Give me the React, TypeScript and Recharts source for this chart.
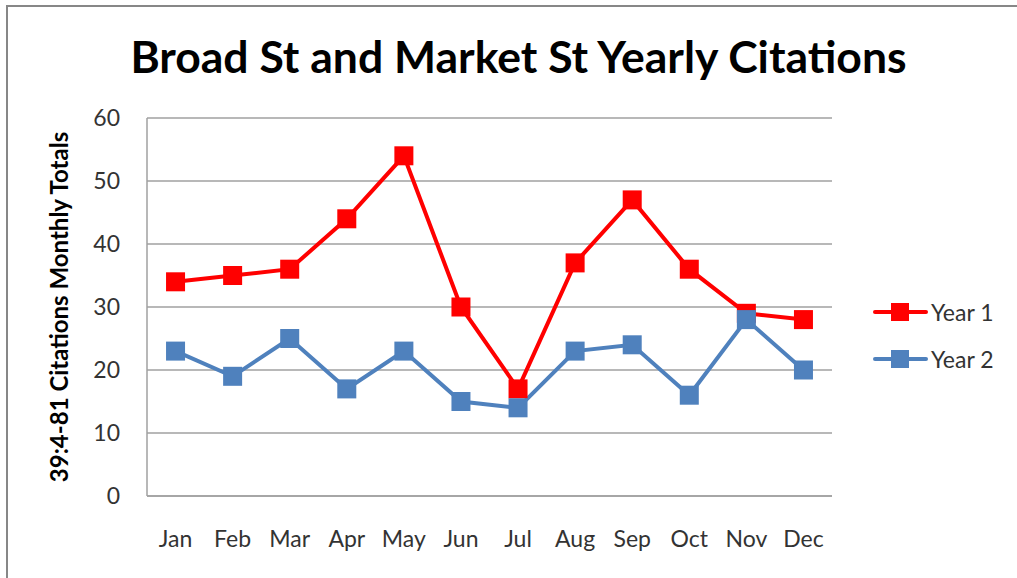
import React from 'react';
import { LineChart, Line, XAxis, YAxis, CartesianGrid } from 'recharts';

const months = ['Jan', 'Feb', 'Mar', 'Apr', 'May', 'Jun', 'Jul', 'Aug', 'Sep', 'Oct', 'Nov', 'Dec'];
const year1 = [34, 35, 36, 44, 54, 30, 17, 37, 47, 36, 29, 28];
const year2 = [23, 19, 25, 17, 23, 15, 14, 23, 24, 16, 28, 20];
const yTicks = [0, 10, 20, 30, 40, 50, 60];
const seriesNames = ['Year 1', 'Year 2'];
const seriesColors = ['#FF0000', '#4F81BD'];
const title = 'Broad St and Market St Yearly Citations';
const yLabel = '39:4-81 Citations Monthly Totals';

const data = months.map((m, i) => ({ month: m, y1: year1[i], y2: year2[i] }));

const FONT = 'Lato, "Open Sans", sans-serif';

const squareDot = (color: string) => (props: any) => {
  const { cx, cy, index } = props;
  if (cx == null || cy == null) return <g key={index} />;
  const s = 19;
  return <rect key={index} x={cx - s / 2} y={cy - s / 2} width={s} height={s} fill={color} />;
};

export default function App() {
  return (
    <div
      style={{
        position: 'fixed',
        left: 0,
        top: 0,
        width: 1017,
        height: 578,
        overflow: 'hidden',
        background: '#fff',
        fontFamily: FONT,
      }}
    >
      <div
        style={{
          position: 'absolute',
          left: 6,
          top: 5,
          width: 1100,
          height: 700,
          border: '2px solid #878787',
          boxSizing: 'border-box',
        }}
      />
      <div
        style={{
          position: 'absolute',
          left: 0,
          width: 1037,
          top: 27,
          textAlign: 'center',
          fontSize: 44.5,
          fontWeight: 700,
          color: '#000',
          lineHeight: '58px',
          whiteSpace: 'nowrap',
        }}
      >
        {title}
      </div>
      <div style={{ position: 'absolute', left: 0, top: 0 }}>
        <LineChart
          width={1017}
          height={578}
          data={data}
          margin={{ top: 118, right: 185, bottom: 52, left: 87 }}
        >
          <CartesianGrid vertical={false} stroke="#a0a0a0" strokeWidth={1.5} />
          <XAxis
            dataKey="month"
            scale="band"
            axisLine={{ stroke: '#a0a0a0', strokeWidth: 1.5 }}
            tickLine={false}
            tickSize={0}
            tickMargin={35}
            tick={{ fill: '#333', fontSize: 23, fontFamily: FONT }}
            interval={0}
          />
          <YAxis
            domain={[0, 60]}
            ticks={yTicks}
            axisLine={{ stroke: '#a0a0a0', strokeWidth: 1.5 }}
            tickLine={false}
            tickSize={0}
            tickMargin={27}
            tick={{ fill: '#333', fontSize: 23, fontFamily: FONT }}
            width={60}
            label={{
              value: yLabel,
              angle: -90,
              position: 'center',
              dx: -58,
              style: { fontSize: 24, fontWeight: 700, fill: '#000', fontFamily: FONT, textAnchor: 'middle' },
            }}
          />
          <Line
            dataKey="y1"
            name={seriesNames[0]}
            stroke={seriesColors[0]}
            strokeWidth={4}
            dot={squareDot(seriesColors[0])}
            activeDot={false}
            isAnimationActive={false}
          />
          <Line
            dataKey="y2"
            name={seriesNames[1]}
            stroke={seriesColors[1]}
            strokeWidth={4}
            dot={squareDot(seriesColors[1])}
            activeDot={false}
            isAnimationActive={false}
          />
        </LineChart>
      </div>
      {seriesNames.map((name, i) => (
        <div
          key={name}
          style={{ position: 'absolute', left: 873, top: 297 + i * 47, height: 30, width: 140 }}
        >
          <div
            style={{
              position: 'absolute',
              left: 0,
              top: 13,
              width: 55,
              height: 4,
              borderRadius: 2,
              background: seriesColors[i],
            }}
          />
          <div
            style={{
              position: 'absolute',
              left: 18,
              top: 6,
              width: 18,
              height: 18,
              background: seriesColors[i],
            }}
          />
          <div
            style={{
              position: 'absolute',
              left: 58,
              top: 0,
              fontSize: 23,
              lineHeight: '30px',
              color: '#333',
              whiteSpace: 'nowrap',
            }}
          >
            {name}
          </div>
        </div>
      ))}
    </div>
  );
}
